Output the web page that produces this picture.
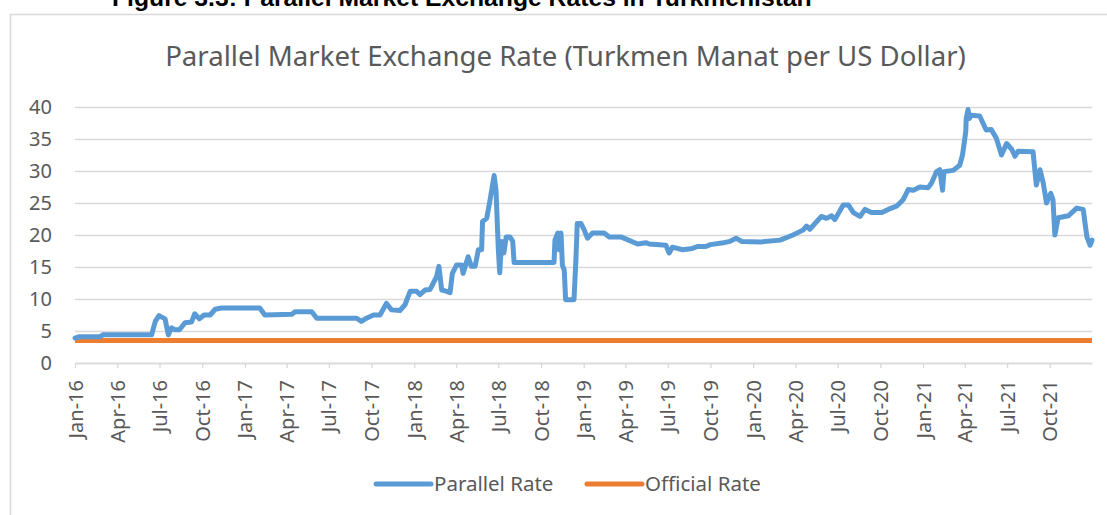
<!DOCTYPE html>
<html>
<head>
<meta charset="utf-8">
<script src="https://cdn.jsdelivr.net/npm/d3@7"></script>
<style>
  body { margin: 0; background: #fff; }
  svg { display: block; }
  text { font-family: 'Noto Sans', 'Open Sans', sans-serif; }
</style>
</head>
<body>
<div id="chart"></div>
<script>
// parallel market rate
const parallelDates = [
  '2016-01-01', '2016-01-10', '2016-02-24', '2016-03-01', '2016-06-14', '2016-06-22',
  '2016-06-30', '2016-07-13', '2016-07-20', '2016-07-27', '2016-08-03', '2016-08-13',
  '2016-08-25', '2016-09-08', '2016-09-15', '2016-09-25', '2016-10-05', '2016-10-18',
  '2016-10-29', '2016-11-12', '2017-02-02', '2017-02-13', '2017-04-12', '2017-04-19',
  '2017-05-25', '2017-06-05', '2017-08-30', '2017-09-09', '2017-09-20', '2017-10-05',
  '2017-10-19', '2017-11-02', '2017-11-13', '2017-12-01', '2017-12-12', '2017-12-23',
  '2018-01-06', '2018-01-13', '2018-01-24', '2018-02-04', '2018-02-11', '2018-02-18',
  '2018-02-23', '2018-03-01', '2018-03-12', '2018-03-19', '2018-03-24', '2018-04-02',
  '2018-04-13', '2018-04-16', '2018-04-27', '2018-05-04', '2018-05-12', '2018-05-19',
  '2018-05-26', '2018-05-28', '2018-06-06', '2018-06-13', '2018-06-22', '2018-06-26',
  '2018-07-01', '2018-07-04', '2018-07-08', '2018-07-13', '2018-07-18', '2018-07-26',
  '2018-08-01', '2018-08-04', '2018-10-29', '2018-10-31', '2018-11-06', '2018-11-09',
  '2018-11-13', '2018-11-16', '2018-11-20', '2018-11-23', '2018-12-11', '2018-12-15',
  '2018-12-18', '2018-12-26', '2019-01-02', '2019-01-09', '2019-01-20', '2019-02-14',
  '2019-02-25', '2019-03-22', '2019-04-27', '2019-05-15', '2019-05-22', '2019-06-27',
  '2019-07-04', '2019-07-11', '2019-08-02', '2019-08-23', '2019-09-03', '2019-09-21',
  '2019-10-01', '2019-10-29', '2019-11-12', '2019-11-25', '2019-12-07', '2020-01-16',
  '2020-02-28', '2020-03-27', '2020-04-18', '2020-04-25', '2020-05-02', '2020-05-27',
  '2020-06-07', '2020-06-18', '2020-06-25', '2020-07-13', '2020-07-24', '2020-08-04',
  '2020-08-18', '2020-08-29', '2020-09-12', '2020-10-04', '2020-10-18', '2020-11-05',
  '2020-11-19', '2020-11-30', '2020-12-11', '2020-12-25', '2021-01-12', '2021-01-19',
  '2021-01-30', '2021-02-06', '2021-02-12', '2021-02-15', '2021-03-07', '2021-03-21',
  '2021-03-27', '2021-04-03', '2021-04-04', '2021-04-08', '2021-04-11', '2021-04-15',
  '2021-05-03', '2021-05-17', '2021-05-28', '2021-06-08', '2021-06-19', '2021-06-30',
  '2021-07-11', '2021-07-18', '2021-07-25', '2021-08-26', '2021-09-02', '2021-09-10',
  '2021-09-17', '2021-09-24', '2021-10-03', '2021-10-08', '2021-10-12', '2021-10-19',
  '2021-11-10', '2021-11-28', '2021-12-12', '2021-12-20', '2021-12-27', '2021-12-31'
]
const parallelValues = [
  3.9, 4.1, 4.1, 4.4, 4.4, 6.5,
  7.4, 6.9, 4.4, 5.5, 5.2, 5.2,
  6.3, 6.4, 7.7, 6.9, 7.5, 7.5,
  8.4, 8.6, 8.6, 7.5, 7.6, 8.0,
  8.0, 7.0, 7.0, 6.5, 7.0, 7.5,
  7.5, 9.3, 8.3, 8.2, 9.1, 11.2,
  11.2, 10.7, 11.4, 11.5, 12.5, 13.5,
  15.1, 11.4, 11.2, 11.0, 14.0, 15.3,
  15.3, 14.0, 16.6, 15.1, 15.1, 17.7,
  17.7, 22.1, 22.6, 25.4, 29.3, 27.0,
  17.7, 14.1, 19.0, 17.2, 19.7, 19.7,
  19.0, 15.7, 15.7, 19.2, 20.3, 17.7,
  20.3, 15.3, 14.5, 9.9, 9.9, 15.9,
  21.8, 21.8, 20.8, 19.5, 20.3, 20.3,
  19.7, 19.7, 18.6, 18.8, 18.6, 18.4,
  17.2, 18.1, 17.7, 17.9, 18.2, 18.2,
  18.5, 18.8, 19.0, 19.5, 19.0, 18.9,
  19.2, 20.0, 20.8, 21.4, 20.9, 22.9,
  22.6, 23.0, 22.4, 24.7, 24.7, 23.5,
  22.9, 24.0, 23.5, 23.5, 24.0, 24.5,
  25.5, 27.1, 27.0, 27.5, 27.4, 28.1,
  29.9, 30.2, 27.0, 29.9, 30.1, 30.9,
  32.5, 36.1, 38.2, 39.6, 38.2, 38.7,
  38.6, 36.4, 36.5, 35.1, 32.5, 34.3,
  33.4, 32.3, 33.1, 33.0, 27.8, 30.2,
  28.1, 25.0, 26.5, 25.5, 20.0, 22.7,
  23.0, 24.2, 24.0, 19.7, 18.4, 19.2
]

// official rate stays fixed
const officialDates = ['2016-01-01', '2021-12-31']
const officialValues = [3.5, 3.5]

const yTicks = [0, 5, 10, 15, 20, 25, 30, 35, 40]
const seriesNames = ['Parallel Rate', 'Official Rate']
const seriesColors = ['#5B9BD5', '#ED7D31']

const titleText = 'Parallel Market Exchange Rate (Turkmen Manat per US Dollar)'
const headingText = 'Figure 3.3: Parallel Market Exchange Rates in Turkmenistan'

const W = 1107
const H = 515
const plot = { left: 75, right: 1092, top: 107, bottom: 363 }

const parseDate = d3.timeParse('%Y-%m-%d')
const parallel = parallelDates.map((d, i) => ({ date: parseDate(d), value: parallelValues[i] }))
const official = officialDates.map((d, i) => ({ date: parseDate(d), value: officialValues[i] }))

const svg = d3
  .select('#chart')
  .append('svg')
  .attr('width', W)
  .attr('height', H)

// chart frame, runs off the right and bottom of the picture
svg
  .append('rect')
  .attr('x', 10.5)
  .attr('y', 14.5)
  .attr('width', 1200)
  .attr('height', 600)
  .attr('fill', 'none')
  .attr('stroke', '#D9D9D9')
  .attr('stroke-width', 1.5)

// heading of the document, cut off at the top like in the reference
const heading = svg
  .append('text')
  .text(headingText)
  .attr('x', 112)
  .attr('y', 6)
  .style('font-family', "'Liberation Sans', Arial, sans-serif")
  .attr('font-weight', 'bold')
  .attr('font-size', 20)
  .attr('fill', '#000')
const hw = heading.node().getComputedTextLength()
heading.attr('font-size', 20 * 700 / hw)

const title = svg
  .append('text')
  .text(titleText)
  .attr('x', 565.5)
  .attr('y', 66)
  .attr('text-anchor', 'middle')
  .attr('font-size', 26)
  .attr('fill', '#595959')
// fit the title to the width it has in the reference
const tw = title.node().getComputedTextLength()
title.attr('font-size', 26 * 801 / tw)

const xPositionScale = d3
  .scaleTime()
  .domain([parseDate('2016-01-01'), parseDate('2021-12-31')])
  .range([plot.left, plot.right])

const yPositionScale = d3
  .scaleLinear()
  .domain([0, 40])
  .range([plot.bottom, plot.top])

// gridlines
const yAxis = d3
  .axisLeft(yPositionScale)
  .tickValues(yTicks)
  .tickSize(-(plot.right - plot.left))
  .tickPadding(23)
  .tickFormat(d3.format('d'))

svg
  .append('g')
  .attr('class', 'axis y-axis')
  .attr('transform', 'translate(' + plot.left + ',0)')
  .call(yAxis)

svg.select('.y-axis .domain').remove()
svg.selectAll('.y-axis line').attr('stroke', '#D9D9D9').attr('stroke-width', 1.3)
svg
  .selectAll('.y-axis text')
  .attr('fill', '#595959')
  .attr('font-size', 20)
  .style('font-family', "'Noto Sans', sans-serif")

const quarters = d3.timeMonth.every(3).range(parseDate('2016-01-01'), parseDate('2021-12-31'))

const xAxis = d3
  .axisBottom(xPositionScale)
  .tickValues(quarters)
  .tickSizeInner(5)
  .tickSizeOuter(0)
  .tickFormat(d3.timeFormat('%b-%y'))

svg
  .append('g')
  .attr('class', 'axis x-axis')
  .attr('transform', 'translate(0,' + plot.bottom + ')')
  .call(xAxis)

svg.select('.x-axis .domain').attr('stroke', '#D9D9D9').attr('stroke-width', 1.3)
svg.selectAll('.x-axis line').attr('stroke', '#D9D9D9').attr('stroke-width', 1.3)
svg
  .selectAll('.x-axis text')
  .attr('fill', '#595959')
  .attr('font-size', 20)
  .style('font-family', "'Noto Sans', sans-serif")
  .attr('text-anchor', 'end')
  .attr('transform', 'rotate(-90)')
  .attr('x', -17)
  .attr('y', 0)
  .attr('dy', '0.35em')

const line = d3
  .line()
  .x(d => xPositionScale(d.date))
  .y(d => yPositionScale(d.value))

svg
  .append('path')
  .datum(official)
  .attr('d', line)
  .attr('fill', 'none')
  .attr('stroke', seriesColors[1])
  .attr('stroke-width', 5)

svg
  .append('path')
  .datum(parallel)
  .attr('d', line)
  .attr('fill', 'none')
  .attr('stroke', seriesColors[0])
  .attr('stroke-width', 5)
  .attr('stroke-linejoin', 'round')
  .attr('stroke-linecap', 'round')

// legend
const legendX = [376, 587]
const legend = svg
  .selectAll('.legend')
  .data(seriesNames)
  .enter()
  .append('g')
  .attr('class', 'legend')
  .attr('transform', (d, i) => 'translate(' + legendX[i] + ',484)')

legend
  .append('line')
  .attr('x1', 0)
  .attr('x2', 55)
  .attr('stroke', (d, i) => seriesColors[i])
  .attr('stroke-width', 5)
  .attr('stroke-linecap', 'round')

legend
  .append('text')
  .text(d => d)
  .attr('x', 58)
  .attr('dy', '0.35em')
  .attr('font-size', 20.5)
  .attr('fill', '#595959')
</script>
</body>
</html>
